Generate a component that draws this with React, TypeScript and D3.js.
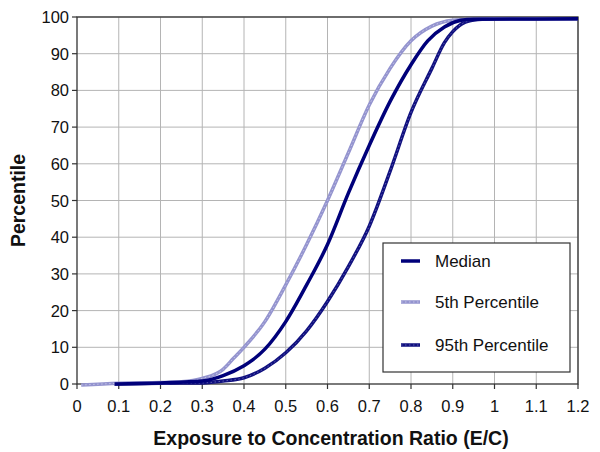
import React from "react";
import * as d3 from "d3";

const xTicks = [0, 0.1, 0.2, 0.3, 0.4, 0.5, 0.6, 0.7, 0.8, 0.9, 1, 1.1, 1.2];
const yTicks = [0, 10, 20, 30, 40, 50, 60, 70, 80, 90, 100];

const p5X = [0.01, 0.1, 0.2, 0.25, 0.3, 0.35, 0.375, 0.4, 0.45, 0.5, 0.55, 0.6, 0.65, 0.7, 0.75, 0.8, 0.85, 0.9, 0.95, 1.0, 1.2];
const p5Y = [-0.3, 0.2, 0.4, 0.6, 1.5, 4, 7, 10, 17, 27, 38, 50, 63, 76, 86, 93.5, 97.5, 99.1, 99.4, 99.5, 99.5];

const medX = [0.09, 0.2, 0.3, 0.35, 0.4, 0.42, 0.45, 0.5, 0.55, 0.6, 0.65, 0.7, 0.75, 0.8, 0.84, 0.88, 0.92, 0.95, 1.2];
const medY = [0, 0.3, 0.8, 2.3, 5, 6.5, 9.5, 17, 27, 38, 52, 65, 77, 87, 93.5, 97.3, 99.1, 99.4, 99.5];

const p95X = [0.09, 0.2, 0.3, 0.35, 0.4, 0.45, 0.5, 0.55, 0.6, 0.65, 0.7, 0.75, 0.8, 0.85, 0.88, 0.9, 0.93, 0.96, 1.0, 1.2];
const p95Y = [0, 0.2, 0.3, 0.8, 1.7, 4.3, 8.5, 14.5, 22.5, 32, 43, 58, 74, 86, 93, 96, 98.6, 99.3, 99.5, 99.5];

const seriesNames = ["Median", "5th Percentile", "95th Percentile"];

const W = 600;
const H = 452;
const left = 77;
const right = 578;
const top = 17;
const bottom = 384;

export default function App() {
  const x = d3.scaleLinear().domain([0, 1.2]).range([left, right]);
  const y = d3.scaleLinear().domain([0, 100]).range([bottom, top]);
  const line = d3
    .line<[number, number]>()
    .x((d) => x(d[0]))
    .y((d) => y(d[1]))
    .curve(d3.curveMonotoneX);

  const zip = (a: number[], b: number[]) => a.map((v, i) => [v, b[i]] as [number, number]);
  const pMed = line(zip(medX, medY)) || "";
  const p5 = line(zip(p5X, p5Y)) || "";
  const p95 = line(zip(p95X, p95Y)) || "";

  const font = "'Liberation Sans', Arial, sans-serif";
  const legY = [266, 307, 350];

  return (
    <svg width={W} height={H} style={{ position: "absolute", left: 0, top: 0, background: "#fff" }} fontFamily={font}>
      <rect x={0} y={0} width={W} height={H} fill="#fff" />
      {xTicks.slice(1).map((t) => (
        <line key={"gx" + t} x1={x(t)} x2={x(t)} y1={top} y2={bottom} stroke="#b4b4b4" strokeWidth={1} />
      ))}
      {yTicks.slice(1).map((t) => (
        <line key={"gy" + t} x1={left} x2={right} y1={y(t)} y2={y(t)} stroke="#b4b4b4" strokeWidth={1} />
      ))}
      <rect x={left} y={top} width={right - left} height={bottom - top} fill="none" stroke="#333" strokeWidth={1.3} />
      {xTicks.map((t) => (
        <g key={"tx" + t}>
          <line x1={x(t)} x2={x(t)} y1={bottom} y2={bottom + 5} stroke="#333" strokeWidth={1.2} />
          <text x={x(t)} y={412} textAnchor="middle" fontSize={16.5} fill="#111">
            {t}
          </text>
        </g>
      ))}
      {yTicks.map((t) => (
        <g key={"ty" + t}>
          <line x1={left - 5} x2={left} y1={y(t)} y2={y(t)} stroke="#333" strokeWidth={1.2} />
          <text x={left - 8} y={y(t) + 6} textAnchor="end" fontSize={16.5} fill="#111">
            {t}
          </text>
        </g>
      ))}
      <text x={331} y={445} textAnchor="middle" fontSize={19.5} fontWeight="bold" fill="#111">
        Exposure to Concentration Ratio (E/C)
      </text>
      <text
        transform={`translate(25,${(top + bottom) / 2}) rotate(-90)`}
        textAnchor="middle"
        fontSize={19.5}
        fontWeight="bold"
        fill="#111"
      >
        Percentile
      </text>

      <path d={p95} fill="none" stroke="#10107f" strokeWidth={3.5} strokeLinejoin="round" />
      <path d={p95} fill="none" stroke="#5a5ab0" strokeWidth={1} strokeDasharray="1.5 2.5" />
      <path d={p5} fill="none" stroke="#9494cf" strokeWidth={3.5} strokeLinejoin="round" />
      <path d={p5} fill="none" stroke="#c4c4e6" strokeWidth={1} strokeDasharray="1.5 2.5" />
      <path d={pMed} fill="none" stroke="#00007a" strokeWidth={3.5} strokeLinejoin="round" />

      <rect x={383} y={243} width={187} height={129} fill="#fff" stroke="#333" strokeWidth={1.2} />
      {seriesNames.map((n, i) => (
        <g key={n}>
          <line
            x1={401}
            x2={420}
            y1={legY[i] - 5}
            y2={legY[i] - 5}
            stroke={i === 0 ? "#00007a" : i === 1 ? "#9494cf" : "#10107f"}
            strokeWidth={3.5}
          />
          {i > 0 && (
            <line
              x1={401}
              x2={420}
              y1={legY[i] - 5}
              y2={legY[i] - 5}
              stroke={i === 1 ? "#c4c4e6" : "#5a5ab0"}
              strokeWidth={1}
              strokeDasharray="1.5 2.5"
            />
          )}
          <text x={435} y={legY[i] + 1} fontSize={17} fill="#111">
            {n}
          </text>
        </g>
      ))}
    </svg>
  );
}
